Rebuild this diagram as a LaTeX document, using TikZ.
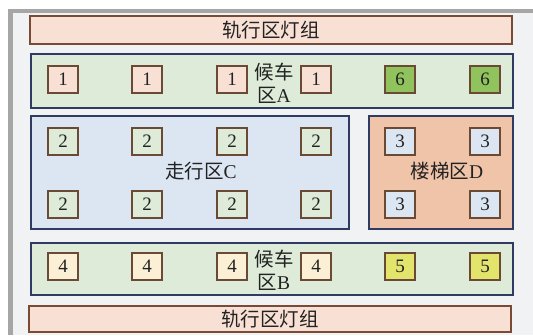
\documentclass[tikz,border=0pt]{standalone}
\usepackage{fontspec}
\setmainfont{Liberation Serif}
\newfontfamily\cjk{Noto Sans CJK SC}
\definecolor{frameG}{HTML}{A6A6A6}
\definecolor{bgG}{HTML}{F1F2F4}
\definecolor{railF}{HTML}{F9E0D4}
\definecolor{railD}{HTML}{7B4A35}
\definecolor{navy}{HTML}{2F3B63}
\definecolor{greenF}{HTML}{DDEBD8}
\definecolor{blueF}{HTML}{DCE6F2}
\definecolor{salmonF}{HTML}{EFC4A8}
\definecolor{boxD}{HTML}{6B4A35}
\definecolor{creamF}{HTML}{FBF0D5}
\definecolor{yellowF}{HTML}{E3E46B}
\definecolor{leafF}{HTML}{90C25D}
\definecolor{txt}{HTML}{222222}
\tikzset{
  rail/.style={draw=railD, fill=railF, line width=1.1pt, inner sep=0pt, font=\cjk\fontsize{19.5}{22}\selectfont, text=txt},
  region/.style={draw=navy, line width=1.1pt, inner sep=0pt},
  numbox/.style={draw=boxD, line width=1.4pt, minimum width=30pt, minimum height=27pt, inner sep=0pt, font=\fontsize{19}{20}\selectfont, text=txt},
  lbl/.style={align=center, text=txt, font=\fontsize{19.5}{23.5}\selectfont, inner sep=0pt},
}
\begin{document}
\begin{tikzpicture}[x=1pt,y=-1pt]
\useasboundingbox (0,0) rectangle (533,335);
\fill[frameG] (8,9) rectangle (533,335);
\fill[bgG] (13,13) rectangle (533,335);
% rails
\node[rail, minimum width=482pt, minimum height=28pt] (railT) at (271,30) {轨行区灯组};
\node[rail, minimum width=482pt, minimum height=26pt] (railB) at (270,319) {轨行区灯组};
% regions
\node[region, fill=greenF, minimum width=482pt, minimum height=54pt] (zoneA) at (272,81) {};
\node[region, fill=blueF, minimum width=318pt, minimum height=113pt] (zoneC) at (190,172.5) {};
\node[region, fill=salmonF, minimum width=144pt, minimum height=113pt] (zoneD) at (441,172.5) {};
\node[region, fill=greenF, minimum width=482pt, minimum height=52pt] (zoneB) at (272,269) {};
% row A
\node[numbox, fill=railF] (a1) at (63,79.5) {1};
\node[numbox, fill=railF] (a2) at (147,79.5) {1};
\node[numbox, fill=railF] (a3) at (232,79.5) {1};
\node[numbox, fill=railF] (a4) at (316,79.5) {1};
\node[numbox, fill=leafF] (a5) at (400,79.5) {6};
\node[numbox, fill=leafF] (a6) at (485,79.5) {6};
\node[lbl] (labA) at (274,83) {{\cjk 候车}\\{\cjk 区}A};
% row C
\foreach \i/\x in {1/63,2/147,3/232,4/316}{
  \node[numbox, fill=greenF] (ct\i) at (\x,141.5) {2};
  \node[numbox, fill=greenF] (cb\i) at (\x,204.5) {2};
}
\node[lbl] (labC) at (201,171) {{\cjk 走行区}C};
% D
\node[numbox, fill=blueF] (dt1) at (400,141.5) {3};
\node[numbox, fill=blueF] (dt2) at (485,141.5) {3};
\node[numbox, fill=blueF] (db1) at (400,204.5) {3};
\node[numbox, fill=blueF] (db2) at (485,204.5) {3};
\node[lbl] (labD) at (447,171) {{\cjk 楼梯区}D};
% row B
\node[numbox, fill=creamF] (b1) at (63,266.5) {4};
\node[numbox, fill=creamF] (b2) at (147,266.5) {4};
\node[numbox, fill=creamF] (b3) at (232,266.5) {4};
\node[numbox, fill=creamF] (b4) at (316,266.5) {4};
\node[numbox, fill=yellowF] (b5) at (400,266.5) {5};
\node[numbox, fill=yellowF] (b6) at (485,266.5) {5};
\node[lbl] (labB) at (274,270) {{\cjk 候车}\\{\cjk 区}B};
\end{tikzpicture}
\end{document}
